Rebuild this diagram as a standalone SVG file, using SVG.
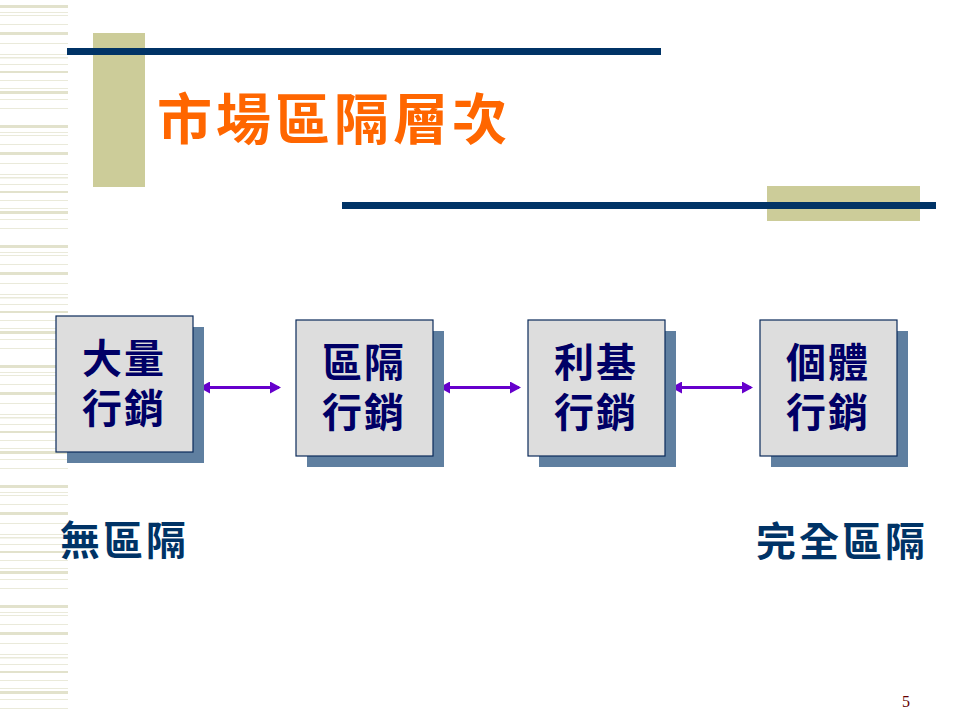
<svg xmlns="http://www.w3.org/2000/svg" width="960" height="720" viewBox="0 0 960 720">
  <style>
    .navy { fill: #003366; }
    .khaki { fill: #CCCC99; }
    .shadow { fill: #5F7FA0; }
    .front { fill: #DDDDDD; stroke: #0A2A5A; stroke-width: 1.2; }
    .boxtxt { font-family: "Noto Sans CJK TC", "Noto Sans CJK SC", sans-serif; font-weight: bold; font-size: 40px; fill: #000066; text-anchor: middle; letter-spacing: 2px; }
    .title { font-family: "Noto Sans CJK TC", "Noto Sans CJK SC", sans-serif; font-weight: bold; font-size: 55px; fill: #FF6600; letter-spacing: 4px; }
    .label { font-family: "Noto Sans CJK TC", "Noto Sans CJK SC", sans-serif; font-weight: bold; font-size: 40px; fill: #003366; letter-spacing: 3px; }
    .arrow { stroke: #6600CC; stroke-width: 3.2; fill: none; marker-start: url(#ah); marker-end: url(#ah); }
    .stripe1 { fill: #E2E2CC; }
    .stripe2 { fill: #EAEADA; }
  </style>
  <defs>
    <marker id="ah" viewBox="0 0 11 12" refX="9" refY="6" markerWidth="11" markerHeight="12" markerUnits="userSpaceOnUse" orient="auto-start-reverse">
      <polygon points="0,0 11,6 0,12" fill="#6600CC"/>
    </marker>
    <pattern id="stripes" x="0" y="0" width="68" height="120" patternUnits="userSpaceOnUse">
      <rect class="stripe1" x="0" y="5" width="68" height="3"/>
      <rect class="stripe2" x="0" y="12" width="68" height="1"/>
      <rect class="stripe2" x="0" y="15" width="68" height="1"/>
      <rect class="stripe2" x="0" y="24" width="68" height="1"/>
      <rect class="stripe1" x="0" y="32" width="68" height="3"/>
      <rect class="stripe2" x="0" y="43" width="68" height="1"/>
      <rect class="stripe2" x="0" y="54" width="68" height="1"/>
      <rect class="stripe2" x="0" y="57" width="68" height="1.5"/>
      <rect class="stripe2" x="0" y="64" width="68" height="1"/>
      <rect class="stripe1" x="0" y="71" width="68" height="2"/>
      <rect class="stripe2" x="0" y="80" width="68" height="1"/>
      <rect class="stripe2" x="0" y="88" width="68" height="1"/>
      <rect class="stripe1" x="0" y="91" width="68" height="3"/>
      <rect class="stripe2" x="0" y="99" width="68" height="1"/>
      <rect class="stripe2" x="0" y="108" width="68" height="1"/>
    </pattern>
  </defs>
  <rect width="960" height="720" fill="#FFFFFF"/>
  <g id="decor">
    <rect x="0" y="0" width="68" height="720" fill="url(#stripes)"/>
    <rect class="khaki" x="93" y="33" width="52" height="154"/>
    <rect class="navy" x="67" y="48" width="594" height="7"/>
    <rect class="khaki" x="767" y="186" width="153" height="35"/>
    <rect class="navy" x="342" y="202" width="594" height="7"/>
  </g>
  <g id="title">
    <text class="title" x="157" y="139">市場區隔層次</text>
  </g>
  <g id="connectors">
    <line class="arrow" x1="201" y1="387.5" x2="279" y2="387.5"/>
    <line class="arrow" x1="441" y1="387.5" x2="519" y2="387.5"/>
    <line class="arrow" x1="673" y1="387.5" x2="751" y2="387.5"/>
  </g>
  <g id="node-mass">
    <rect class="shadow" x="67" y="327" width="137" height="136"/>
    <rect class="front" x="56" y="316" width="137" height="136"/>
    <text class="boxtxt"><tspan x="124" y="372.5">大量</tspan><tspan x="124" y="422.5">行銷</tspan></text>
  </g>
  <g id="node-segment">
    <rect class="shadow" x="307" y="331" width="137" height="136"/>
    <rect class="front" x="296" y="320" width="137" height="136"/>
    <text class="boxtxt"><tspan x="364" y="376.5">區隔</tspan><tspan x="364" y="426.5">行銷</tspan></text>
  </g>
  <g id="node-niche">
    <rect class="shadow" x="539" y="331" width="137" height="136"/>
    <rect class="front" x="528" y="320" width="137" height="136"/>
    <text class="boxtxt"><tspan x="596" y="376.5">利基</tspan><tspan x="596" y="426.5">行銷</tspan></text>
  </g>
  <g id="node-individual">
    <rect class="shadow" x="771" y="331" width="137" height="136"/>
    <rect class="front" x="760" y="320" width="137" height="136"/>
    <text class="boxtxt"><tspan x="828" y="376.5">個體</tspan><tspan x="828" y="426.5">行銷</tspan></text>
  </g>
  <g id="labels">
    <text class="label" x="60" y="555">無區隔</text>
    <text class="label" x="756" y="556">完全區隔</text>
  </g>
  <text x="906" y="707" font-family="Liberation Serif, serif" font-size="16" fill="#660000" text-anchor="middle">5</text>
</svg>
